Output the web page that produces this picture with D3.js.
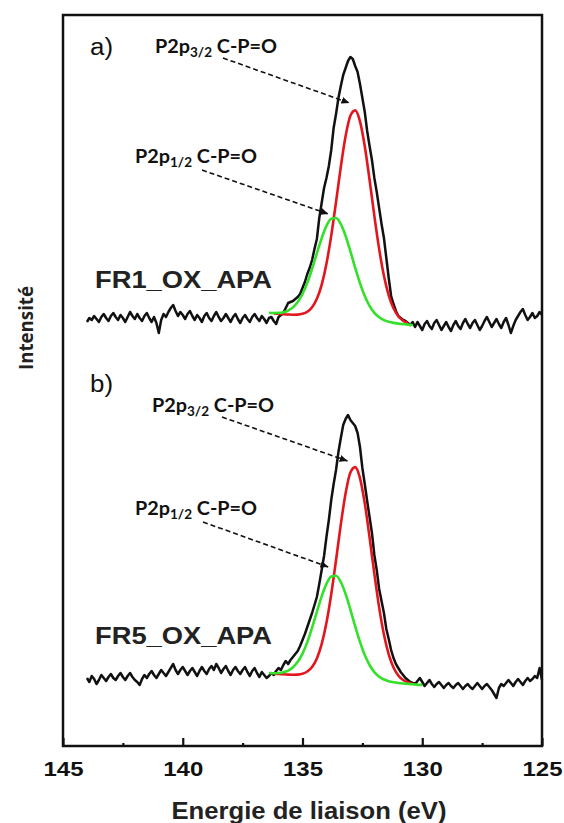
<!DOCTYPE html>
<html><head><meta charset="utf-8">
<script src="https://cdn.jsdelivr.net/npm/d3@7"></script>
<style>body{margin:0;background:#fff}</style>
</head><body><svg id="c" width="564" height="823"></svg>
<script>
// ---------- DATA ----------
const xTicks = [145, 140, 135, 130, 125];
const xMinorTicks = [142.5, 137.5, 132.5, 127.5];
const xTitle = "Energie de liaison (eV)";
const yTitle = "Intensité";
const panelLabels = ["a)", "b)"];
const sampleNames = ["FR1_OX_APA", "FR5_OX_APA"];

// measured spectra: first energy and step (eV), intensities (a.u.)
const specStart = 144.0, specStep = 0.1;
const spectrumA = [
18,22,20,24,21,18,23,26,22,19,
24,27,23,20,25,22,18,23,28,24,
21,26,22,19,24,27,22,18,23,17,
7,20,26,23,28,32,35,29,24,28,
25,21,26,29,24,20,25,22,18,24,
27,22,19,24,28,23,19,22,26,22,
18,23,26,21,17,22,25,21,18,23,
26,22,19,24,21,17,
22,23,19,16,23,25,27,32,37,38,
39,41,43,46,52,58,66,72,80,91,
101,122,137,152,162,174,190,212,226,242,
254,265,272,279,283,281,274,268,256,242,
228,209,194,180,162,148,132,116,102,82,
62,44,36,29,24,22,20,19,17,15,
18,
13,18,14,10,16,19,14,11,17,20,
15,10,14,18,13,9,15,19,14,11,
17,21,16,12,17,20,15,10,14,19,
23,18,13,17,21,16,12,18,22,15,
7,14,20,24,28,31,25,20,23,27,
22,24,28,25];
const spectrumB = [
22,18,24,21,16,20,25,22,19,23,
26,22,20,24,27,23,20,24,27,23,
20,18,15,21,25,22,26,29,25,22,
26,30,27,24,28,32,36,30,26,30,
33,29,25,29,32,28,24,29,33,29,
26,31,34,30,36,32,27,31,34,29,
25,30,33,29,26,30,33,28,24,29,
32,27,23,28,25,22,
24,27,25,29,32,30,35,39,36,40,
43,46,49,54,60,66,73,80,87,95,
103,116,130,144,163,180,200,216,230,248,
262,275,281,285,280,277,274,267,253,232,
216,199,183,167,145,130,111,99,87,71,
61,50,42,36,32,28,25,22,20,18,
17,
16,19,22,18,14,17,20,16,13,16,
18,15,12,15,17,14,12,15,17,14,
11,14,16,13,11,14,17,14,11,14,
16,13,10,6,2,12,16,14,17,20,
17,14,18,21,18,15,19,22,19,21,
24,22,32,20];

// fitted components (P2p1/2 green, P2p3/2 red)
const greenEA = [136.4,136.2,136.0,135.8,135.6,135.4,135.2,135.0,134.8,134.6,134.4,134.2,134.0,133.8,133.6,133.4,133.2,133.0,132.8,132.6,132.4,132.2,132.0,131.8,131.6,131.4,131.2,131.0,130.8,130.6,130.4];
const greenA = [27.2,27.0,27.1,27.8,29.4,32.6,37.9,46.0,57.1,71.2,86.7,101.8,114.1,121.3,122.0,115.8,104.0,88.7,72.2,56.9,44.0,34.2,27.2,22.7,19.9,18.2,17.1,16.4,15.9,15.4,15.0];
const redEA = [136.2,136.0,135.8,135.6,135.4,135.2,135.0,134.8,134.6,134.4,134.2,134.0,133.8,133.6,133.4,133.2,133.0,132.8,132.6,132.4,132.2,132.0,131.8,131.6,131.4,131.2,131.0,130.8,130.6];
const redA = [26.6,26.2,25.8,25.5,25.3,25.4,26.2,28.3,32.8,41.2,55.2,76.2,104.4,138.0,173.2,203.9,224.3,229.6,218.7,193.8,160.2,124.2,91.1,64.2,44.6,31.7,23.8,19.3,16.9];
const greenEB = [136.4,136.2,136.0,135.8,135.6,135.4,135.2,135.0,134.8,134.6,134.4,134.2,134.0,133.8,133.6,133.4,133.2,133.0,132.8,132.6,132.4,132.2,132.0,131.8,131.6,131.4,131.2,131.0,130.8,130.6,130.4,130.2,130.0];
const greenB = [27.0,26.8,27.0,27.7,29.4,32.8,38.2,46.4,57.9,72.3,88.1,103.6,116.1,123.5,124.2,118.0,106.0,90.4,73.6,58.1,44.9,35.0,27.9,23.3,20.5,18.8,17.7,17.0,16.5,16.1,15.7,15.4,15.0];
const redEB = [136.2,136.0,135.8,135.6,135.4,135.2,135.0,134.8,134.6,134.4,134.2,134.0,133.8,133.6,133.4,133.2,133.0,132.8,132.6,132.4,132.2,132.0,131.8,131.6,131.4,131.2,131.0,130.8,130.6,130.4];
const redB = [26.4,26.1,25.7,25.4,25.3,25.4,26.2,28.5,33.0,41.6,55.9,77.2,105.8,139.8,175.6,206.8,227.5,232.9,221.9,196.6,162.7,126.2,92.6,65.4,45.6,32.5,24.5,20.0,17.6,16.3];

// annotation targets (energy, intensity)
const annotSub = ["3/2", "1/2"];
const arrowTipsA = [[133.04, 237], [133.92, 126]];
const arrowTipsB = [[133.12, 239], [133.92, 133]];

// ---------- DRAW ----------
const svg = d3.select("#c");
const L = 63, R = 542, T = 15, B = 746;
const x = d3.scaleLinear().domain([145, 125]).range([L, R]);
const yA = d3.scaleLinear().domain([0, 300]).range([340, 40]);
const yB = d3.scaleLinear().domain([0, 300]).range([700, 400]);

const defs = svg.append("defs");
defs.append("marker").attr("id", "ah").attr("markerUnits", "userSpaceOnUse")
  .attr("markerWidth", 9).attr("markerHeight", 8).attr("refX", 8).attr("refY", 4)
  .attr("orient", "auto")
  .append("path").attr("d", "M0,0.5 L8,4 L0,7.5 Z").attr("fill", "#111");

function spectrumPts(arr) { return arr.map((v, i) => [specStart - i * specStep, v]); }

function drawPanel(spec, gE, gV, rE, rV, y) {
  const ln = d3.line().x(d => x(d[0])).y(d => y(d[1]));
  const sm = d3.line().x(d => x(d[0])).y(d => y(d[1])).curve(d3.curveMonotoneX);
  svg.append("path").datum(spectrumPts(spec)).attr("d", ln)
    .attr("fill", "none").attr("stroke", "#111").attr("stroke-width", 2.5)
    .attr("stroke-linejoin", "round");
  svg.append("path").datum(rE.map((e, i) => [e, rV[i]])).attr("d", sm)
    .attr("fill", "none").attr("stroke", "#e3161d").attr("stroke-width", 2.6);
  svg.append("path").datum(gE.map((e, i) => [e, gV[i]])).attr("d", sm)
    .attr("fill", "none").attr("stroke", "#33e02a").attr("stroke-width", 2.6);
}
drawPanel(spectrumA, greenEA, greenA, redEA, redA, yA);
drawPanel(spectrumB, greenEB, greenB, redEB, redB, yB);

// frame
svg.append("rect").attr("x", L).attr("y", T).attr("width", R - L).attr("height", B - T)
  .attr("fill", "none").attr("stroke", "#111").attr("stroke-width", 2.5);

// axes
const ax = svg.append("g").attr("transform", `translate(0,${B})`)
  .call(d3.axisBottom(x).tickValues(xTicks).tickSize(-8).tickPadding(15).tickFormat(d3.format("d")));
ax.select(".domain").remove();
ax.selectAll("line").attr("stroke", "#111").attr("stroke-width", 2.2);
ax.selectAll("text").attr("font-family", "Liberation Sans, Arial, sans-serif")
  .attr("font-weight", "bold").attr("font-size", 21).attr("fill", "#111")
  .attr("textLength", 40).attr("lengthAdjust", "spacingAndGlyphs");
const axm = svg.append("g").attr("transform", `translate(0,${B})`)
  .call(d3.axisBottom(x).tickValues(xMinorTicks).tickSize(-3).tickFormat(""));
axm.select(".domain").remove();
axm.selectAll("line").attr("stroke", "#111").attr("stroke-width", 2.2);

svg.append("text").attr("x", 309).attr("y", 819).attr("text-anchor", "middle")
  .attr("font-family", "Liberation Sans, Arial, sans-serif").attr("font-weight", "bold")
  .attr("font-size", 24).attr("fill", "#222").attr("textLength", 275)
  .attr("lengthAdjust", "spacingAndGlyphs").text(xTitle);

svg.append("text").attr("transform", "translate(33,328) rotate(-90)").attr("text-anchor", "middle")
  .attr("font-family", "Open Sans, sans-serif").attr("font-weight", "bold")
  .attr("font-size", 20).attr("fill", "#222").attr("textLength", 84)
  .attr("lengthAdjust", "spacingAndGlyphs").text(yTitle);

// panel letters and sample names
[[90, 55], [90, 392]].forEach((p, i) => {
  svg.append("text").attr("x", p[0]).attr("y", p[1])
    .attr("font-family", "Liberation Sans, Arial, sans-serif").attr("font-size", 23)
    .attr("fill", "#111").attr("textLength", 23).attr("lengthAdjust", "spacingAndGlyphs")
    .text(panelLabels[i]);
});
[[95, 288], [95, 644]].forEach((p, i) => {
  svg.append("text").attr("x", p[0]).attr("y", p[1])
    .attr("font-family", "Liberation Sans, Arial, sans-serif").attr("font-weight", "bold")
    .attr("font-size", 23).attr("fill", "#222").attr("textLength", 177)
    .attr("lengthAdjust", "spacingAndGlyphs").text(sampleNames[i]);
});

// peak annotations
function annot(tx, ty, sub, sx, sy, tip, y) {
  const t = svg.append("text").attr("x", tx).attr("y", ty)
    .attr("font-family", "Lato, Open Sans, sans-serif").attr("font-weight", "bold")
    .attr("font-size", 19).attr("fill", "#111")
    .attr("textLength", 122).attr("lengthAdjust", "spacingAndGlyphs");
  t.append("tspan").text("P2p");
  t.append("tspan").attr("font-size", 13).attr("dy", 4).text(sub);
  t.append("tspan").attr("dy", -4).text(" C-P=O");
  svg.append("line").attr("x1", sx).attr("y1", sy)
    .attr("x2", x(tip[0])).attr("y2", y(tip[1]))
    .attr("stroke", "#111").attr("stroke-width", 1.6).attr("stroke-dasharray", "5,3")
    .attr("marker-end", "url(#ah)");
}
annot(155, 53, annotSub[0], 223, 58, arrowTipsA[0], yA);
annot(135, 163, annotSub[1], 202, 170, arrowTipsA[1], yA);
annot(152, 412, annotSub[0], 222, 417, arrowTipsB[0], yB);
annot(135, 515, annotSub[1], 203, 522, arrowTipsB[1], yB);
</script></body></html>
